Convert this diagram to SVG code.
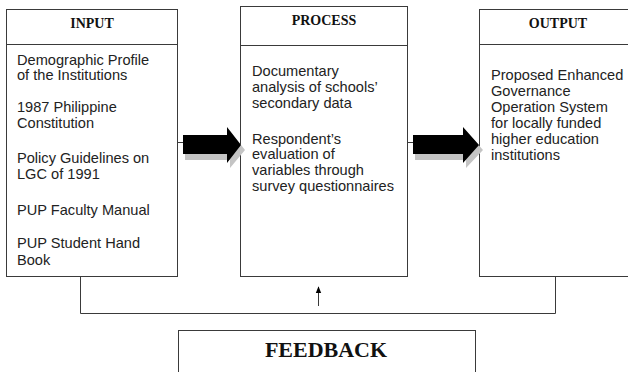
<svg xmlns="http://www.w3.org/2000/svg" width="628" height="372" viewBox="0 0 628 372">
<style>
.box{fill:#fff;stroke:#3a3a3a;stroke-width:1}
.div{stroke:#3a3a3a;stroke-width:1}
.hd{font-family:"Liberation Serif","Times New Roman",serif;font-weight:bold;font-size:14px;fill:#111;text-anchor:middle}
.tx{font-family:"Liberation Sans",Arial,sans-serif;font-size:14.6px;fill:#222}
.ln{stroke:#3a3a3a;stroke-width:1;fill:none}
.shadow{fill:#c4c4c4}
.blk{fill:#000}
</style>
<defs>
<marker id="ah" viewBox="0 0 10 10" refX="9" refY="5" markerWidth="7" markerHeight="7" orient="auto">
<path d="M0,1 L10,5 L0,9 z" fill="#000"/>
</marker>
</defs>
<rect width="628" height="372" fill="#fff"/>
<g id="input">
<rect class="box" x="6.5" y="9.5" width="171" height="267"/>
<line class="div" x1="6.5" y1="44.5" x2="177.5" y2="44.5"/>
<text class="hd" x="92" y="28">INPUT</text>
<text class="tx" x="17" y="65">Demographic Profile</text>
<text class="tx" x="17" y="80">of the Institutions</text>
<text class="tx" x="17" y="112">1987 Philippine</text>
<text class="tx" x="17" y="128">Constitution</text>
<text class="tx" x="17" y="163">Policy Guidelines on</text>
<text class="tx" x="17" y="179">LGC of 1991</text>
<text class="tx" x="17" y="215">PUP Faculty Manual</text>
<text class="tx" x="17" y="248">PUP Student Hand</text>
<text class="tx" x="17" y="265">Book</text>
</g>
<g id="process">
<rect class="box" x="240.5" y="6.5" width="167" height="270"/>
<line class="div" x1="240.5" y1="45.5" x2="407.5" y2="45.5"/>
<text class="hd" x="324" y="25">PROCESS</text>
<text class="tx" x="252" y="76">Documentary</text>
<text class="tx" x="252" y="92">analysis of schools’</text>
<text class="tx" x="252" y="108">secondary data</text>
<text class="tx" x="252" y="144">Respondent’s</text>
<text class="tx" x="252" y="159">evaluation of</text>
<text class="tx" x="252" y="175">variables through</text>
<text class="tx" x="252" y="191">survey questionnaires</text>
</g>
<g id="output">
<rect class="box" x="479.5" y="9.5" width="160" height="267"/>
<line class="div" x1="479.5" y1="44.5" x2="640" y2="44.5"/>
<text class="hd" x="558" y="28">OUTPUT</text>
<text class="tx" x="491" y="80">Proposed Enhanced</text>
<text class="tx" x="491" y="96">Governance</text>
<text class="tx" x="491" y="112">Operation System</text>
<text class="tx" x="491" y="128">for locally funded</text>
<text class="tx" x="491" y="144">higher education</text>
<text class="tx" x="491" y="160">institutions</text>
</g>
<g id="feedback">
<rect class="box" x="178.5" y="330.5" width="297" height="60"/>
<text class="hd" x="326" y="357" style="font-size:22px">FEEDBACK</text>
</g>
<g id="connectors">
<line class="ln" x1="178" y1="142.5" x2="184" y2="142.5"/>
<polygon class="shadow" points="185,140 230,140 230,131 245,150 230,168 230,160 185,160"/>
<polygon class="blk" points="183,135 227,135 227,127 241,145 227,163 227,154 183,154"/>
<line class="ln" x1="408" y1="142.5" x2="414" y2="142.5"/>
<polygon class="shadow" points="415,140 466,140 466,131 483,150 466,168 466,160 415,160"/>
<polygon class="blk" points="413,135 463,135 463,127 479,145 463,163 463,154 413,154"/>
<polyline class="ln" points="80.5,276 80.5,313.5 555.5,313.5 555.5,276"/>
<line class="ln" x1="318.5" y1="306" x2="318.5" y2="287" marker-end="url(#ah)"/>
</g>
</svg>
